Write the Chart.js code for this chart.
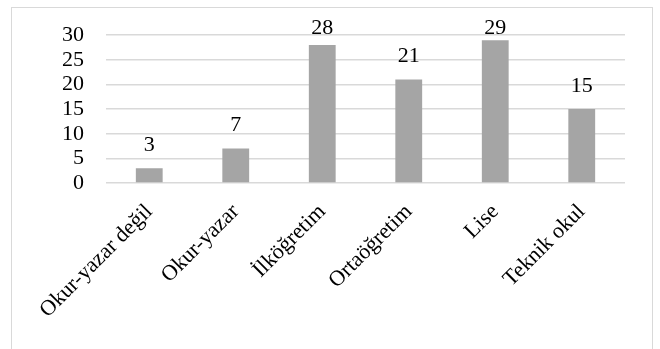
<!DOCTYPE html>
<html>
<head>
<meta charset="utf-8">
<script src="https://cdn.jsdelivr.net/npm/chart.js@4/dist/chart.umd.min.js"></script>
<style>
  html, body { margin: 0; padding: 0; background: #fff; }
  #wrap { position: relative; width: 660px; height: 349px; }
  #frame { position: absolute; left: 11px; top: 7px; width: 642px; height: 345px; border: 1px solid #d9d9d9; box-sizing: border-box; }
</style>
</head>
<body>
<div id="wrap">
  <div id="frame"></div>
  <canvas id="chart" width="660" height="349"></canvas>
</div>
<script>
const categories = ["Okur-yazar değil", "Okur-yazar", "İlköğretim", "Ortaöğretim", "Lise", "Teknik okul"];
const counts = [3, 7, 28, 21, 29, 15];
const yTicks = [0, 5, 10, 15, 20, 25, 30];

const serif = "'Liberation Serif', 'Times New Roman', serif";

// value labels above each bar
const barLabels = {
  id: "barLabels",
  afterDatasetsDraw(chart) {
    const ctx = chart.ctx;
    const meta = chart.getDatasetMeta(0);
    ctx.save();
    ctx.font = "22px " + serif;
    ctx.fillStyle = "#000";
    ctx.textAlign = "center";
    ctx.textBaseline = "bottom";
    meta.data.forEach((bar, i) => {
      const y = Math.max(bar.y - 12, 39);
      ctx.fillText(String(counts[i]), bar.x, y);
    });
    ctx.restore();
  }
};

new Chart(document.getElementById("chart").getContext("2d"), {
  type: "bar",
  data: {
    labels: categories,
    datasets: [{
      data: counts,
      backgroundColor: "#a5a5a5",
      categoryPercentage: 1,
      barPercentage: 0.31
    }]
  },
  options: {
    responsive: false,
    animation: false,
    layout: { padding: { left: 40, right: 35, top: 35, bottom: 18 } },
    plugins: { legend: { display: false }, tooltip: { enabled: false } },
    scales: {
      x: {
        grid: { display: false },
        border: { display: false },
        ticks: {
          color: "#000",
          font: { family: serif, size: 22 },
          minRotation: 45,
          maxRotation: 45,
          autoSkip: false,
          padding: 8
        }
      },
      y: {
        min: yTicks[0],
        max: yTicks[yTicks.length - 1],
        afterBuildTicks(axis) { axis.ticks = yTicks.map(v => ({ value: v })); },
        grid: { color: "#d9d9d9", lineWidth: 1.5, drawTicks: false },
        border: { display: false },
        ticks: {
          color: "#000",
          font: { family: serif, size: 22 },
          autoSkip: false,
          padding: 22
        }
      }
    }
  },
  plugins: [barLabels]
});
</script>
</body>
</html>
